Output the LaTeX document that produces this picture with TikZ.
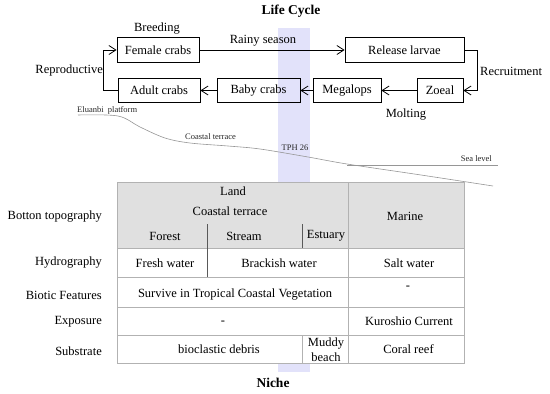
\documentclass[tikz,border=0pt]{standalone}
\usepackage{fontspec}
\setmainfont{Liberation Serif}
\usetikzlibrary{arrows.meta}
\definecolor{bandblue}{RGB}{226,226,250}
\definecolor{headgray}{RGB}{224,224,224}
\definecolor{gridgray}{RGB}{178,178,178}
\definecolor{terrain}{RGB}{150,150,150}

\begin{document}
\begin{tikzpicture}[x=1pt,y=-1pt,
    crab/.style={draw,line width=0.8pt,inner sep=0pt,minimum height=24.5pt,
                 font=\fontsize{12.5}{14}\selectfont},
    flow/.style={-{Straight Barb[length=7pt,width=9pt,line width=0.8pt]},
                 line width=0.8pt},
    lbl/.style={font=\fontsize{12.5}{14}\selectfont,inner sep=0pt},
    tiny/.style={font=\fontsize{8.5}{10}\selectfont,inner sep=0pt,text=black!85},
    cell/.style={font=\fontsize{12.5}{14.5}\selectfont,inner sep=0pt,align=center},
    grid/.style={draw=gridgray,line width=0.6pt},
    split/.style={draw=black!65,line width=0.8pt},
    head/.style={font=\fontsize{13.5}{15}\selectfont\bfseries,inner sep=0pt},
  ]
  \useasboundingbox (0,0) rectangle (550,394);

  % Band
  \fill[bandblue] (278,28) rectangle (310,372);

  % Life cycle
  \node[head] (title) at (291,11) {Life Cycle};
  \node[crab,minimum width=82pt]  (female)   at (158,50)    {Female crabs};
  \node[crab,minimum width=119pt] (release)  at (404.5,50)  {Release larvae};
  \node[crab,minimum width=82pt]  (adult)    at (159,90.5)  {Adult crabs};
  \node[crab,minimum width=83pt]  (baby)     at (258.5,90.5) {Baby crabs};
  \node[crab,minimum width=68pt]  (megalops) at (347,90.5)  {Megalops};
  \node[crab,minimum width=46pt]  (zoeal)    at (440,90.5)  {Zoeal};

  \draw[flow] (female) -- (release);
  \draw[flow] (release.east) -- ++(13,0) |- (zoeal.east);
  \draw[flow] (zoeal) -- (megalops);
  \draw[flow] (megalops) -- (baby);
  \draw[flow] (baby) -- (adult);
  \draw[flow] (adult.west) -- ++(-14,0) |- (female.west);

  \node[lbl] (rainy) at (263,41) {Rainy season};
  \node[lbl] (breeding) at (157,29) {Breeding};
  \node[lbl,anchor=east] (repro) at (103,70) {Reproductive};
  \node[lbl,anchor=west] (recruit) at (480,71) {Recruitment};
  \node[lbl] (molting) at (406,115) {Molting};

  % Terrain profile
  \draw[terrain,line width=0.6pt] plot[smooth,tension=0.55] coordinates {
    (78,115) (118,116) (140,127) (165,138) (190,143) (228,146)
    (260,149) (308,157) (347,164) (421,175) (493,186)};
  \draw[terrain,line width=0.6pt] (347,165) -- (498,165);
  \node[tiny,anchor=west] (eluanbi) at (77,110) {Eluanbi\ \ platform};
  \node[tiny] (terrace) at (210.5,137) {Coastal terrace};
  \node[tiny] (tph) at (295,148) {TPH 26};
  \node[tiny,anchor=east] (sea) at (492,159) {Sea level};

  % Niche table
  \fill[headgray] (117,182) rectangle (464,248);
  \fill[white] (117,248) rectangle (464,363);
  \draw[grid] (117,182) rectangle (464,363);
  \foreach \y in {248,277,307,335}
    \draw[grid] (117,\y) -- (464,\y);
  \draw[grid] (348,182) -- (348,363);
  \draw[split] (207,224) -- (207,277);
  \draw[split] (302,224) -- (302,248);
  \draw[grid] (302,335) -- (302,363);

  \node[lbl,anchor=east] (rtopo)   at (102,217) {Botton topography};
  \node[lbl,anchor=east] (rhydro)  at (102,263) {Hydrography};
  \node[lbl,anchor=east] (rbiotic) at (102,295) {Biotic Features};
  \node[lbl,anchor=east] (rexpo)   at (102,322) {Exposure};
  \node[lbl,anchor=east] (rsub)    at (102,351) {Substrate};

  \node[cell] (land)    at (233,191) {Land};
  \node[cell] (coastal) at (230,211) {Coastal terrace};
  \node[cell] (forest)  at (165,236) {Forest};
  \node[cell] (stream)  at (244,236) {Stream};
  \node[cell] (estuary) at (326,236) {Estuary};
  \node[cell] (marine)  at (405,216) {Marine};

  \node[cell] (fresh)    at (165,263) {Fresh water};
  \node[cell] (brackish) at (279,263) {Brackish water};
  \node[cell] (salt)     at (409,263) {Salt water};
  \node[cell] (survive)  at (235,295) {Survive in Tropical Coastal Vegetation};
  \node[cell] (biodash)  at (408,288) {-};
  \node[cell] (expdash)  at (223,323) {-};
  \node[cell] (kuroshio) at (409,321) {Kuroshio Current};
  \node[cell] (debris)   at (219,349) {bioclastic debris};
  \node[cell] (muddy)    at (326,349.5) {Muddy\\beach};
  \node[cell] (coral)    at (408.5,349) {Coral reef};

  \node[head] (niche) at (273,383) {Niche};
\end{tikzpicture}
\end{document}
